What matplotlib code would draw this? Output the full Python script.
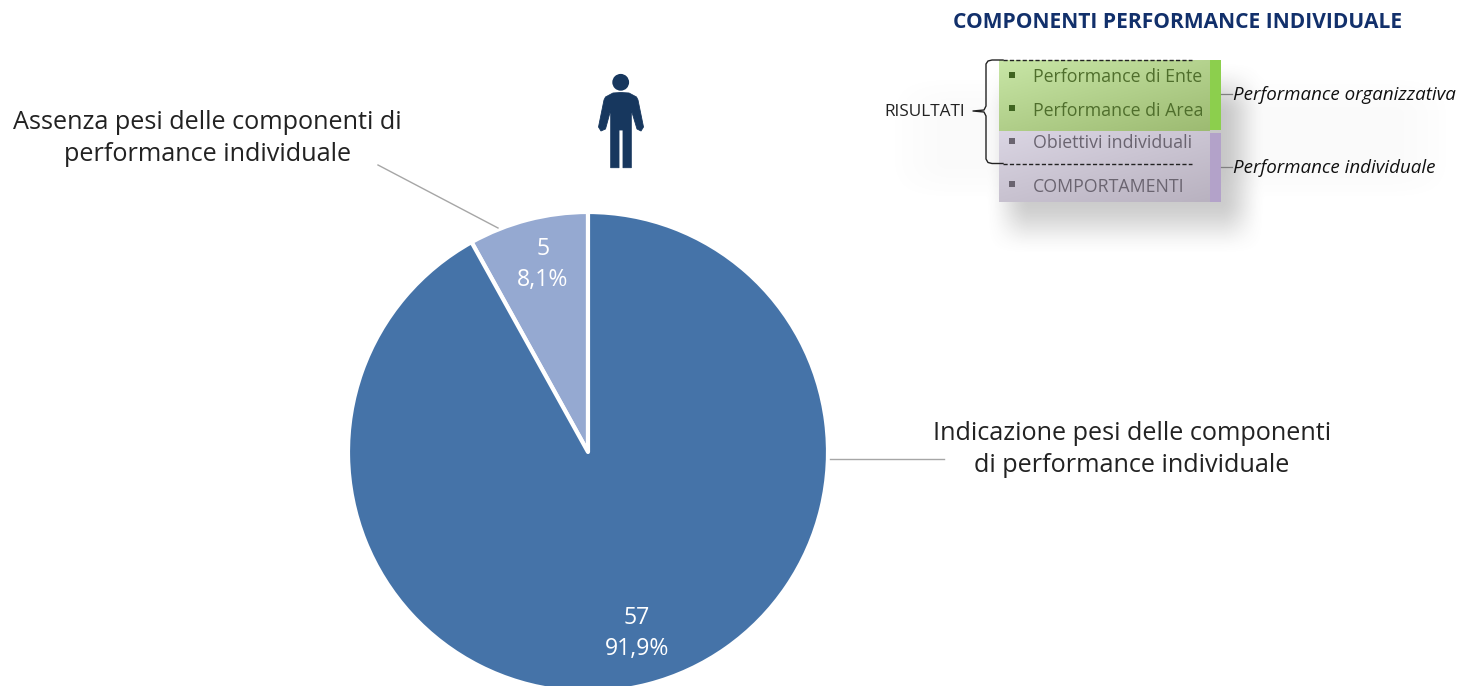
import numpy as np
import matplotlib
matplotlib.use("Agg")
import matplotlib.pyplot as plt
from matplotlib.patches import Rectangle, Circle, Polygon

W, H = 1460, 686
plt.rcParams['font.family'] = ['Open Sans', 'DejaVu Sans']

# ---- data ----
categories = ["Assenza pesi delle componenti di\nperformance individuale",
              "Indicazione pesi delle componenti\ndi performance individuale"]
counts = [5, 57]
percent_labels = ["8,1%", "91,9%"]
pie_colors = ["#95A9D1", "#4573A8"]
title = "COMPONENTI PERFORMANCE INDIVIDUALE"
green_items = ["Performance di Ente", "Performance di Area"]
purple_items = ["Obiettivi individuali", "COMPORTAMENTI"]
group_labels = ["Performance organizzativa", "Performance individuale"]
bracket_label = "RISULTATI"

fig = plt.figure(figsize=(W / 100, H / 100), dpi=100, facecolor="white")
ax = fig.add_axes([0, 0, 1, 1])


def Y(y):
    return H - y


# ---- pie ----
ax.pie(counts, colors=pie_colors, startangle=90, counterclock=True,
       center=(588, Y(452)), radius=240, frame=True,
       wedgeprops=dict(edgecolor="white", linewidth=3.0, joinstyle="round"))
ax.set_xlim(0, W)
ax.set_ylim(0, H)
ax.set_aspect("auto")
ax.axis("off")

# data labels
for n, p, (x, y1, y2) in zip(counts, percent_labels,
                             [(543, 249, 280), (637, 618, 649)]):
    ax.text(x, Y(y1), str(n), color="white", fontsize=16.6, ha="center", va="center")
    ax.text(x, Y(y2), p, color="white", fontsize=16.6, ha="center", va="center")

# category labels + leaders
for lab, x, y in zip(categories, [207.5, 1132], [138.5, 449.5]):
    ax.text(x, Y(y), lab, color="#222222", fontsize=18.2, ha="center", va="center",
            linespacing=1.36)
ax.plot([378, 498], [Y(165), Y(228)], color="#A6A6A6", lw=1.0)
ax.plot([830, 944], [Y(459), Y(459)], color="#A6A6A6", lw=1.0)

# ---- person icon ----
ic = "#17375E"
ax.add_patch(Circle((620.7, Y(82.3)), 8.4, color=ic, lw=0))
body = [(613, 93), (621, 92.5), (629, 93), (636.5, 97), (638, 100), (643.5, 127),
        (641, 131), (637, 129), (631.3, 110), (631.3, 167.7), (623, 167.7),
        (623, 130), (619, 130), (619, 167.7), (610.7, 167.7), (610.7, 110),
        (605.5, 129), (601, 131), (598.5, 127), (604, 100), (605.5, 97)]
ax.add_patch(Polygon([(x, Y(y)) for x, y in body], closed=True, fc=ic, ec=ic,
                     lw=0.6, joinstyle="round"))

# ---- inset diagram ----
# soft shadow
xx, yy = np.meshgrid(np.arange(860, 1460), np.arange(40, 270))


def band(v, a, b, s):
    t = np.clip((v - a) / s, 0, 1) * np.clip((b - v) / s, 0, 1)
    return t * t * (3 - 2 * t)


al = 0.36 * band(xx, 985, 1265, 45) * band(yy, 60, 255, 55)
al += 0.035 * band(xx, 880, 1460, 70) * band(yy, 70, 205, 45)
shadow = np.zeros(xx.shape + (4,))
shadow[..., :3] = 0.45
shadow[..., 3] = np.clip(al, 0, 1)
ax.imshow(shadow, extent=(860, 1460, Y(270), Y(40)), origin="upper",
          aspect="auto", zorder=1, interpolation="bilinear")
ax.set_xlim(0, W)
ax.set_ylim(0, H)


def grad_block(x0, x1, y0, y1, c_tl, c_br):
    gx, gy = np.meshgrid(np.linspace(0, 1, 60), np.linspace(0, 1, 40))
    t = (0.45 * gx + 0.55 * gy)[..., None]
    img = (1 - t) * np.array(matplotlib.colors.to_rgb(c_tl)) + t * np.array(matplotlib.colors.to_rgb(c_br))
    ax.imshow(img, extent=(x0, x1, Y(y1), Y(y0)), origin="upper", aspect="auto",
              zorder=2, interpolation="bilinear")


grad_block(999, 1210, 60, 131, "#C8E6A6", "#9DBB72")
grad_block(999, 1210, 131, 202, "#DAD5E3", "#B9B2C0")
ax.set_xlim(0, W)
ax.set_ylim(0, H)
ax.add_patch(Rectangle((1210, Y(130)), 11, 70, fc="#8CCF4D", ec="none", zorder=3))
ax.add_patch(Rectangle((1210, Y(202)), 11, 69, fc="#B3A2C9", ec="none", zorder=3))

for label, y, tc, bc in zip(green_items + purple_items, [76, 109, 142, 185],
                            ["#4F6E2C", "#4F6E2C", "#6A6470", "#6A6470"],
                            ["#3F6420", "#3F6420", "#6A6470", "#6A6470"]):
    ax.add_patch(Rectangle((1008.5, Y(y + 2)), 6, 6, fc=bc, ec="none", zorder=4))
    ax.text(1033, Y(y + 1.5), label, color=tc, fontsize=12.8, ha="left", va="center", zorder=4)

# dashed lines
for x0, y in [(1003, 60), (1003, 163.5)]:
    ax.plot([x0, 1192], [Y(y), Y(y)], color="#222222", lw=1.0,
            ls=(0, (3, 1.6)), zorder=5)

# brace
bx = [1003, 992, 988, 986, 986, 984, 973, 984, 986, 986, 988, 992, 1003]
by = [60, 60, 61, 64, 106, 110, 111, 112, 116, 159, 162.5, 163.5, 163.5]
ax.plot(bx, [Y(v) for v in by], color="#222222", lw=1.0, zorder=5)
ax.text(884, Y(112), bracket_label, color="#222222", fontsize=12.4, ha="left",
        va="center", zorder=5)

# group labels
for lab, y in zip(group_labels, [94, 167]):
    ax.plot([1221, 1232], [Y(y), Y(y)], color="#7F7F7F", lw=0.9, zorder=5)
    ax.text(1233, Y(y + 1), lab, color="#111111", fontsize=13.5, style="italic",
            ha="left", va="center", zorder=5)

ax.text(1178, Y(22), title, color="#12306B", fontsize=15.1, fontweight="bold",
        ha="center", va="center", zorder=5)

fig.savefig("out.png", dpi=100, facecolor="white")
